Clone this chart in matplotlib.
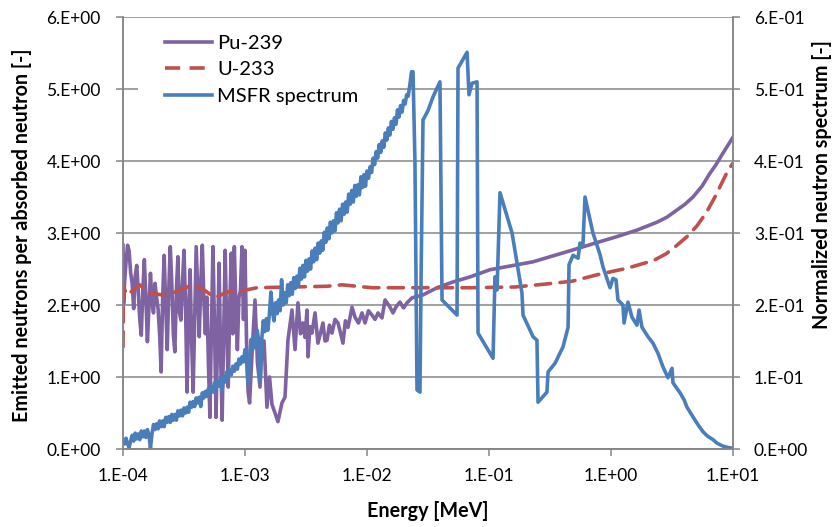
import math
import matplotlib
matplotlib.use("Agg")
import matplotlib.pyplot as plt
import numpy as np
from matplotlib.lines import Line2D
from matplotlib.patches import Rectangle
from matplotlib.ticker import FixedLocator, FuncFormatter

plt.rcParams['font.family'] = ['Lato', 'DejaVu Sans']

# Pu-239: neutrons emitted per absorbed neutron, x given as log10(E / MeV)
pu_loge = [-4.0000, -3.9950, -3.9875, -3.9750, -3.9625, -3.9500, -3.9375, -3.9250, -3.9125, -3.9000,
           -3.8875, -3.8750, -3.8625, -3.8500, -3.8375, -3.8250, -3.8125, -3.8000, -3.7875, -3.7750,
           -3.7625, -3.7500, -3.7375, -3.7250, -3.7125, -3.7000, -3.6875, -3.6750, -3.6625, -3.6500,
           -3.6375, -3.6250, -3.6125, -3.6000, -3.5875, -3.5750, -3.5625, -3.5500, -3.5375, -3.5250,
           -3.5125, -3.5000, -3.4875, -3.4750, -3.4625, -3.4500, -3.4375, -3.4250, -3.4125, -3.4000,
           -3.3875, -3.3750, -3.3625, -3.3500, -3.3375, -3.3250, -3.3125, -3.3000, -3.2875, -3.2750,
           -3.2625, -3.2500, -3.2375, -3.2250, -3.2125, -3.2000, -3.1875, -3.1750, -3.1625, -3.1500,
           -3.1375, -3.1250, -3.1125, -3.1000, -3.0875, -3.0750, -3.0625, -3.0500, -3.0375, -3.0250,
           -3.0125, -3.0000, -2.9875, -2.9750, -2.9625, -2.9400, -2.9180, -2.8980, -2.8770, -2.8600,
           -2.8440, -2.8200, -2.7990, -2.7790, -2.7540, -2.7300, -2.6970, -2.6720, -2.6480, -2.6150,
           -2.5900, -2.5660, -2.5450, -2.5250, -2.5080, -2.4920, -2.4840, -2.4680, -2.4510, -2.4260,
           -2.4020, -2.3800, -2.3610, -2.3440, -2.3280, -2.3080, -2.2870, -2.2620, -2.2380, -2.2180,
           -2.1970, -2.1770, -2.1560, -2.1400, -2.1230, -2.0980, -2.0700, -2.0410, -2.0160, -1.9880,
           -1.9590, -1.9340, -1.9100, -1.8770, -1.8520, -1.8110, -1.7870, -1.7600, -1.7300, -1.7000,
           -1.6720, -1.6310, -1.5410, -1.4260, -1.2950, -1.1560, -0.9920, -0.7700, -0.6390, -0.3610,
           -0.0900, 0.0490, 0.2130, 0.3770, 0.4590, 0.5410, 0.6070, 0.6720, 0.7460, 0.8110,
           0.8610, 0.9180, 0.9590, 1.0000]
pu_val = [2.83, 2.02, 2.30, 2.60, 2.83, 2.75, 2.45, 2.30, 1.95, 2.40,
          2.55, 2.20, 1.80, 1.58, 2.20, 2.63, 2.10, 1.49, 1.95, 2.44,
          2.05, 1.89, 2.30, 2.11, 1.95, 1.60, 1.07, 2.10, 2.69, 2.00,
          1.38, 2.20, 2.81, 2.30, 1.60, 1.35, 2.20, 2.67, 1.90, 1.79,
          2.30, 2.76, 2.00, 0.79, 1.90, 2.49, 1.50, 0.79, 1.80, 2.81,
          2.20, 1.56, 2.30, 2.83, 2.10, 1.60, 2.11, 1.20, 0.44, 1.70,
          2.81, 1.70, 0.44, 1.50, 2.58, 1.30, 0.40, 1.60, 2.76, 1.70,
          0.86, 2.00, 2.72, 1.60, 2.81, 2.00, 1.38, 2.10, 2.20, 2.81,
          1.80, 2.76, 1.50, 0.80, 0.64, 1.40, 2.07, 1.20, 0.86, 1.50,
          1.50, 0.58, 1.00, 0.62, 0.50, 0.38, 0.64, 0.72, 1.51, 1.93,
          1.38, 2.03, 1.60, 1.75, 1.55, 1.93, 1.28, 1.70, 1.61, 1.89,
          1.47, 1.62, 1.75, 1.50, 1.51, 1.72, 1.61, 1.80, 1.75, 1.62,
          1.47, 1.78, 1.69, 1.82, 1.97, 1.83, 1.75, 1.89, 1.75, 1.92,
          1.86, 1.80, 1.89, 1.82, 2.07, 1.97, 1.89, 1.98, 2.04, 1.96,
          2.03, 2.10, 2.14, 2.24, 2.32, 2.39, 2.49, 2.56, 2.60, 2.74,
          2.88, 2.95, 3.04, 3.15, 3.22, 3.32, 3.40, 3.50, 3.65, 3.83,
          3.95, 4.11, 4.22, 4.33]

# U-233
u_loge = [-4.000, -3.996, -3.967, -3.861, -3.795, -3.680, -3.574, -3.426, -3.328, -3.246,
          -3.148, -3.016, -2.902, -2.631, -2.328, -2.205, -1.959, -1.566, -1.156, -0.787,
          -0.541, -0.320, -0.090, 0.131, 0.352, 0.450, 0.541, 0.623, 0.705, 0.780,
          0.852, 0.910, 0.959, 1.000]
u_val = [1.42, 2.25, 2.14, 2.28, 2.17, 2.14, 2.18, 2.28, 2.20, 2.10,
         2.18, 2.20, 2.24, 2.25, 2.26, 2.28, 2.24, 2.24, 2.24, 2.25,
         2.29, 2.33, 2.43, 2.51, 2.62, 2.71, 2.83, 2.95, 3.10, 3.28,
         3.50, 3.70, 3.87, 3.97]

# MSFR normalized neutron spectrum (right axis)
msfr_loge = [-4.0000, -3.9875, -3.9750, -3.9625, -3.9500, -3.9375, -3.9250, -3.9125,
             -3.9000, -3.8875, -3.8750, -3.8625, -3.8500, -3.8375, -3.8250, -3.8125,
             -3.8000, -3.7875, -3.7750, -3.7625, -3.7500, -3.7375, -3.7250, -3.7125,
             -3.7000, -3.6875, -3.6750, -3.6625, -3.6500, -3.6375, -3.6250, -3.6125,
             -3.6000, -3.5875, -3.5750, -3.5625, -3.5500, -3.5375, -3.5250, -3.5125,
             -3.5000, -3.4875, -3.4750, -3.4625, -3.4500, -3.4375, -3.4250, -3.4125,
             -3.4000, -3.3875, -3.3750, -3.3625, -3.3500, -3.3375, -3.3250, -3.3125,
             -3.3000, -3.2875, -3.2750, -3.2625, -3.2500, -3.2375, -3.2250, -3.2125,
             -3.2000, -3.1875, -3.1750, -3.1625, -3.1500, -3.1375, -3.1250, -3.1125,
             -3.1000, -3.0875, -3.0750, -3.0625, -3.0500, -3.0375, -3.0250, -3.0125,
             -3.0000, -2.9875, -2.9750, -2.9625, -2.9500, -2.9375, -2.9250, -2.9125,
             -2.9000, -2.8875, -2.8750, -2.8625, -2.8500, -2.8375, -2.8250, -2.8125,
             -2.8000, -2.7875, -2.7750, -2.7625, -2.7500, -2.7375, -2.7250, -2.7125,
             -2.7000, -2.6875, -2.6750, -2.6625, -2.6500, -2.6375, -2.6250, -2.6125,
             -2.6000, -2.5875, -2.5750, -2.5625, -2.5500, -2.5375, -2.5250, -2.5125,
             -2.5000, -2.4875, -2.4750, -2.4625, -2.4500, -2.4375, -2.4250, -2.4125,
             -2.4000, -2.3875, -2.3750, -2.3625, -2.3500, -2.3375, -2.3250, -2.3125,
             -2.3000, -2.2875, -2.2750, -2.2625, -2.2500, -2.2375, -2.2250, -2.2125,
             -2.2000, -2.1875, -2.1750, -2.1625, -2.1500, -2.1375, -2.1250, -2.1125,
             -2.1000, -2.0875, -2.0750, -2.0625, -2.0500, -2.0375, -2.0250, -2.0125,
             -2.0000, -1.9875, -1.9750, -1.9625, -1.9500, -1.9375, -1.9250, -1.9125,
             -1.9000, -1.8875, -1.8750, -1.8625, -1.8500, -1.8375, -1.8250, -1.8125,
             -1.8000, -1.7875, -1.7750, -1.7625, -1.7500, -1.7375, -1.7250, -1.7125,
             -1.7000, -1.6875, -1.6750, -1.6625, -1.6500,
             -1.635, -1.623, -1.607, -1.590, -1.566, -1.557, -1.541, -1.500, -1.459, -1.402,
             -1.385, -1.262, -1.254, -1.180, -1.164, -1.139, -1.098, -1.090, -0.967, -0.951,
             -0.934, -0.910, -0.811, -0.730, -0.721, -0.639, -0.607, -0.598, -0.525, -0.516,
             -0.459, -0.393, -0.352, -0.344, -0.311, -0.270, -0.254, -0.230, -0.213, -0.148,
             -0.090, -0.066, -0.008, 0.016, 0.041, 0.057, 0.098, 0.107, 0.139, 0.172,
             0.213, 0.230, 0.254, 0.303, 0.344, 0.385, 0.426, 0.467, 0.500, 0.508,
             0.566, 0.600, 0.623, 0.689, 0.720, 0.754, 0.790, 0.836, 0.870, 0.918,
             0.960, 1.000]
msfr_val = [0.010, 0.007, 0.015, 0.007, 0.002, 0.011, 0.019, 0.011,
            0.022, 0.014, 0.021, 0.013, 0.025, 0.017, 0.025, 0.016,
            0.027, 0.020, 0.001, 0.021, 0.034, 0.027, 0.035, 0.028,
            0.039, 0.031, 0.039, 0.031, 0.044, 0.037, 0.045, 0.037,
            0.048, 0.040, 0.048, 0.040, 0.053, 0.046, 0.054, 0.046,
            0.057, 0.050, 0.058, 0.051, 0.065, 0.058, 0.066, 0.059,
            0.071, 0.064, 0.072, 0.059, 0.078, 0.071, 0.080, 0.073,
            0.084, 0.077, 0.086, 0.079, 0.092, 0.085, 0.094, 0.087,
            0.098, 0.081, 0.100, 0.093, 0.107, 0.100, 0.110, 0.103,
            0.115, 0.108, 0.118, 0.111, 0.125, 0.118, 0.128, 0.121,
            0.138, 0.124, 0.090, 0.127, 0.152, 0.138, 0.157, 0.142,
            0.165, 0.150, 0.095, 0.153, 0.178, 0.163, 0.181, 0.165,
            0.188, 0.218, 0.191, 0.178, 0.203, 0.188, 0.207, 0.192,
            0.235, 0.200, 0.217, 0.203, 0.228, 0.213, 0.231, 0.215,
            0.238, 0.223, 0.240, 0.226, 0.251, 0.236, 0.255, 0.239,
            0.262, 0.247, 0.264, 0.250, 0.275, 0.260, 0.279, 0.263,
            0.286, 0.272, 0.289, 0.276, 0.301, 0.287, 0.307, 0.292,
            0.315, 0.300, 0.317, 0.303, 0.328, 0.314, 0.333, 0.317,
            0.340, 0.326, 0.343, 0.329, 0.354, 0.340, 0.359, 0.343,
            0.366, 0.351, 0.367, 0.353, 0.378, 0.363, 0.381, 0.365,
            0.386, 0.376, 0.392, 0.384, 0.404, 0.395, 0.413, 0.404,
            0.423, 0.412, 0.428, 0.419, 0.439, 0.429, 0.446, 0.436,
            0.455, 0.444, 0.460, 0.451, 0.471, 0.461, 0.477, 0.468,
            0.484, 0.479, 0.492, 0.490, 0.504,
            0.524, 0.524, 0.400, 0.082, 0.079, 0.235, 0.457, 0.470, 0.489, 0.510,
            0.207, 0.186, 0.529, 0.551, 0.492, 0.508, 0.510, 0.161, 0.126, 0.239,
            0.221, 0.356, 0.300, 0.217, 0.186, 0.156, 0.151, 0.065, 0.079, 0.107,
            0.119, 0.142, 0.169, 0.256, 0.269, 0.265, 0.286, 0.283, 0.350, 0.300,
            0.270, 0.253, 0.224, 0.237, 0.235, 0.207, 0.200, 0.175, 0.204, 0.183,
            0.172, 0.193, 0.169, 0.156, 0.147, 0.133, 0.114, 0.099, 0.112, 0.092,
            0.078, 0.068, 0.058, 0.040, 0.032, 0.024, 0.018, 0.013, 0.008, 0.004,
            0.002, 0.001]

x_ticks = [1e-4, 1e-3, 1e-2, 1e-1, 1e0, 1e1]
left_ticks = [0, 1, 2, 3, 4, 5, 6]
right_ticks = [0, 0.1, 0.2, 0.3, 0.4, 0.5, 0.6]

c_pu = '#7F62A1'
c_u = '#C0504D'
c_msfr = '#4A7EBB'
c_axis = '#868686'
fs_tick = 12.5
fs_leg = 14.5
fs_lab = 14.2
lw = 2.6


def sci(v, pos=None):
    # Excel style "0.E+00" labels
    if v == 0:
        return "0.E+00"
    e = int(math.floor(math.log10(abs(v)) + 1e-9))
    m = int(round(v / 10 ** e))
    return f"{m}.E{e:+03d}"


fig = plt.figure(figsize=(8.32, 5.27), dpi=100)
ax = fig.add_axes([123 / 832, 1 - 449 / 527, 610 / 832, 432 / 527])
ax2 = ax.twinx()

ax.plot(10 ** np.array(pu_loge), pu_val, color=c_pu, lw=lw, solid_joinstyle='round')
ax.plot(10 ** np.array(u_loge), u_val, color=c_u, lw=lw, dashes=(4.2, 2.6), dash_capstyle='round')
ax2.plot(10 ** np.array(msfr_loge), msfr_val, color=c_msfr, lw=lw, solid_joinstyle='round')

ax.set_xscale('log')
ax.set_xlim(1e-4, 1e1)
ax.set_ylim(0, 6)
ax2.set_ylim(0, 0.6)
ax.xaxis.set_major_locator(FixedLocator(x_ticks))
ax.xaxis.set_minor_locator(FixedLocator([]))
ax.xaxis.set_major_formatter(FuncFormatter(sci))
ax.set_yticks(left_ticks)
ax.yaxis.set_major_formatter(FuncFormatter(sci))
ax2.set_yticks(right_ticks)
ax2.yaxis.set_major_formatter(FuncFormatter(sci))

ax.grid(axis='y', color=c_axis, lw=1.1)
ax.set_axisbelow(True)
for a in (ax, ax2):
    for s in a.spines.values():
        s.set_color(c_axis)
        s.set_linewidth(1.1)
    a.spines['top'].set_visible(False)
    a.tick_params(colors=c_axis, labelcolor='black', labelsize=fs_tick, length=5, width=1.1)
ax.tick_params(axis='y', pad=11)
ax.tick_params(axis='x', pad=9)
ax2.tick_params(axis='y', pad=10)

# axis titles
fig.text(428 / 832, 1 - 511 / 527, "Energy [MeV]", fontsize=fs_lab, fontweight='bold',
         ha='center', va='center')
fig.text(22 / 832, 1 - 235 / 527, "Emitted neutrons per absorbed neutron [-]", fontsize=fs_lab,
         fontweight='bold', rotation=90, ha='center', va='center')
fig.text(822 / 832, 1 - 185 / 527, "Normalized neutron spectrum [-]", fontsize=fs_lab,
         fontweight='bold', rotation=90, ha='center', va='center')

# white legend area hiding the grid behind it
ax2.add_patch(Rectangle((0.0246, 0.789), 0.408, 0.19, transform=ax2.transAxes,
                        facecolor='white', edgecolor='none', zorder=3))
handles = [Line2D([], [], color=c_pu, lw=lw),
           Line2D([], [], color=c_u, lw=lw, dashes=(4.2, 2.6)),
           Line2D([], [], color=c_msfr, lw=lw)]
leg = ax2.legend(handles, ["Pu-239", "U-233", "MSFR spectrum"], loc='upper left',
                 bbox_to_anchor=(0.069, 0.958), fontsize=fs_leg, frameon=False,
                 handlelength=2.35, handletextpad=0.25, labelspacing=0.45, borderpad=0,
                 borderaxespad=0)
leg.set_zorder(5)

fig.savefig("out.png", dpi=100)
